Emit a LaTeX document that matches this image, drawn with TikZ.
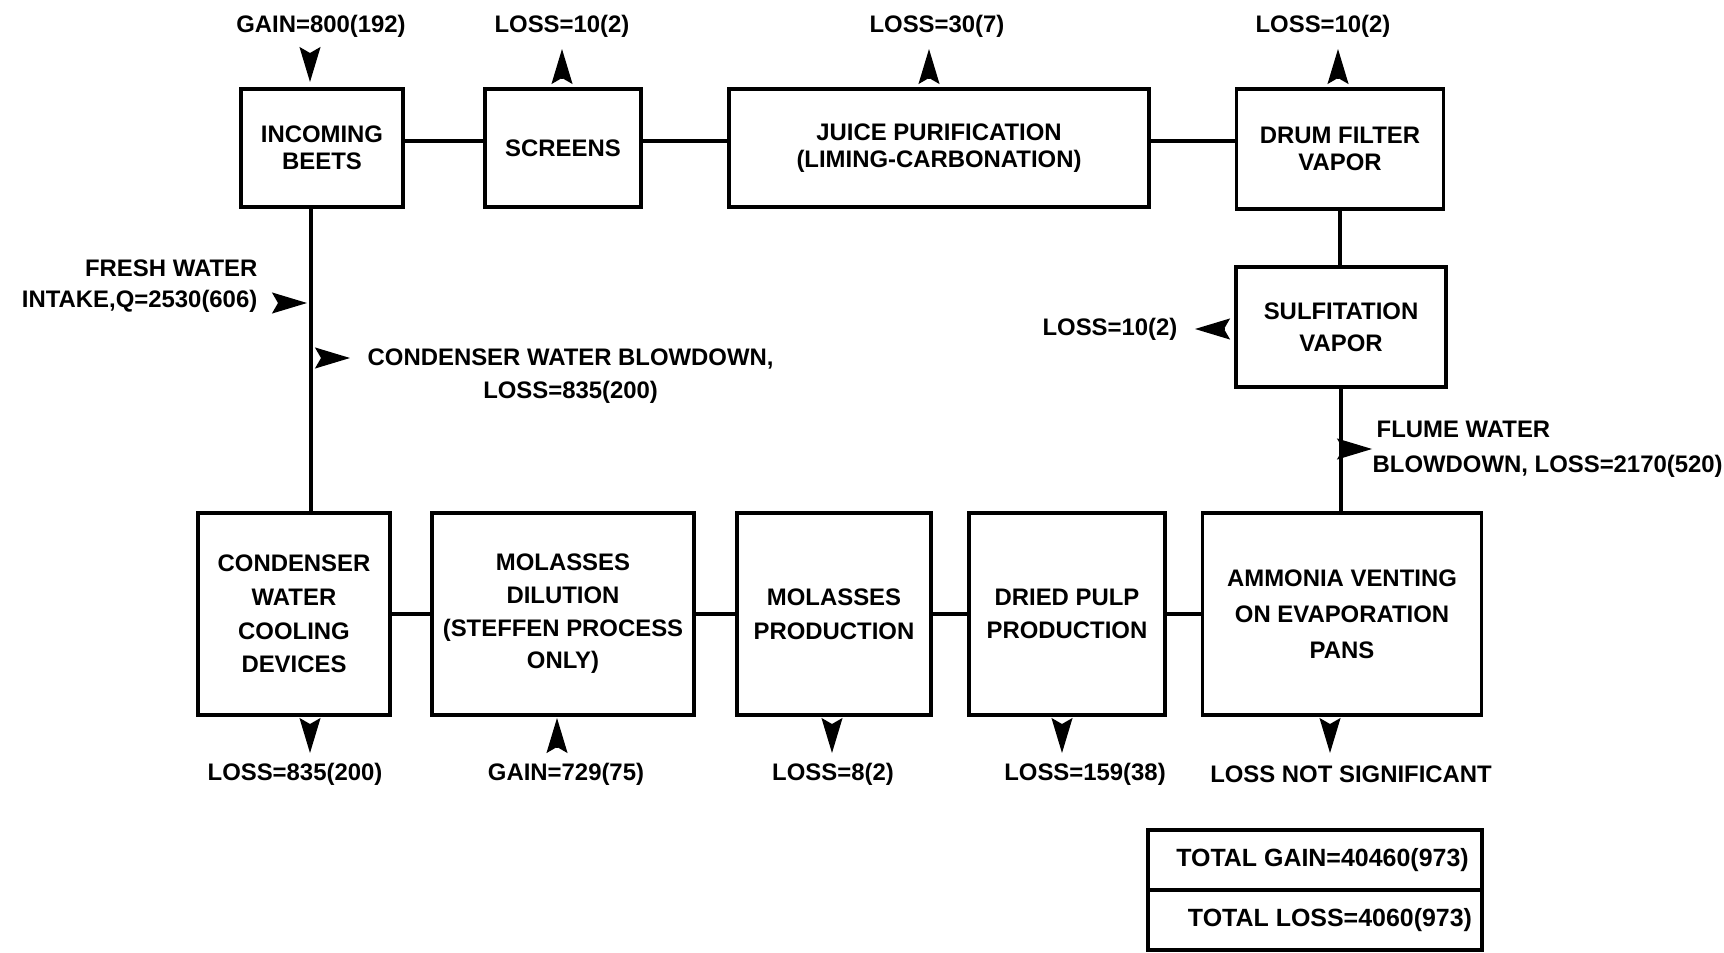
\documentclass[tikz,border=0pt]{standalone}
\usepackage{fontspec}
\setmainfont{Liberation Sans}
\usetikzlibrary{arrows.meta}

\tikzset{
  box/.style={draw,line width=0.9pt,align=center,inner sep=0pt,font=\fontsize{6.8}{7.7}\selectfont\bfseries},
  tallbox/.style={box,font=\fontsize{6.8}{9.6}\selectfont\bfseries},
  lbl/.style={inner sep=0pt,font=\fontsize{6.8}{9.4}\selectfont\bfseries},
  pipe/.style={line width=0.9pt},
  tip/.style={-{Stealth[length=3.5mm,width=2.1mm,inset=0.6mm]}}
}

\begin{document}
\begin{tikzpicture}
\useasboundingbox (0,0) rectangle (17.24,9.52);

% top row
\node[box,minimum width=1.62cm,minimum height=1.18cm] (beets) at (3.22,8.04) {INCOMING\\BEETS};
\node[box,minimum width=1.56cm,minimum height=1.18cm] (screens) at (5.63,8.04) {SCREENS};
\node[box,minimum width=4.20cm,minimum height=1.18cm] (juice) at (9.39,8.04) {JUICE PURIFICATION\\(LIMING-CARBONATION)};
\node[box,minimum width=2.07cm,minimum height=1.20cm] (drum) at (13.40,8.03) {DRUM FILTER\\VAPOR};
\node[tallbox,font=\fontsize{6.8}{9.1}\selectfont\bfseries,minimum width=2.10cm,minimum height=1.20cm] (sulf) at (13.41,6.25) {SULFITATION\\VAPOR};

% bottom row
\node[tallbox,minimum width=1.92cm,minimum height=2.02cm] (cond) at (2.94,3.38) {CONDENSER\\WATER\\COOLING\\DEVICES};
\node[tallbox,font=\fontsize{6.8}{9.3}\selectfont\bfseries,minimum width=2.62cm,minimum height=2.02cm] (dil) at (5.63,3.38) {MOLASSES\\DILUTION\\(STEFFEN PROCESS\\ONLY)};
\node[tallbox,minimum width=1.94cm,minimum height=2.02cm] (mprod) at (8.34,3.38) {MOLASSES\\PRODUCTION};
\node[tallbox,minimum width=1.96cm,minimum height=2.02cm] (pulp) at (10.67,3.38) {DRIED PULP\\PRODUCTION};
\node[tallbox,font=\fontsize{6.8}{10.2}\selectfont\bfseries,minimum width=2.79cm,minimum height=2.02cm] (ammo) at (13.42,3.38) {AMMONIA VENTING\\ON EVAPORATION\\PANS};

% totals
\node[box,font=\fontsize{7.1}{8}\selectfont\bfseries,minimum width=3.34cm,minimum height=0.60cm] (totgain) at (13.15,0.92) {\hspace{0.15cm}TOTAL GAIN=40460(973)};
\node[box,font=\fontsize{7.1}{8}\selectfont\bfseries,minimum width=3.34cm,minimum height=0.60cm] (totloss) at (13.15,0.32) {\hspace{0.3cm}TOTAL LOSS=4060(973)};

% labels
\node[lbl] (gainbeets) at (3.21,9.26) {GAIN=800(192)};
\node[lbl] (lossscreens) at (5.62,9.26) {LOSS=10(2)};
\node[lbl] (lossjuice) at (9.37,9.26) {LOSS=30(7)};
\node[lbl] (lossdrum) at (13.23,9.26) {LOSS=10(2)};
\node[lbl,align=right,font=\fontsize{6.8}{8.8}\selectfont\bfseries,anchor=east] (fresh) at (2.58,6.66) {FRESH WATER\hspace{0.08cm}\\INTAKE,Q=2530(606)};
\node[lbl,align=center,anchor=west] (cdblow) at (3.67,5.76) {CONDENSER WATER BLOWDOWN,\\LOSS=835(200)};
\node[lbl] (losssulf) at (11.10,6.23) {LOSS=10(2)};
\node[lbl,align=left,font=\fontsize{6.8}{9.9}\selectfont\bfseries,anchor=west] (flume) at (13.72,5.03) {\hspace{0.04cm}FLUME WATER\\BLOWDOWN, LOSS=2170(520)};
\node[lbl] (losscond) at (2.95,1.78) {LOSS=835(200)};
\node[lbl] (gaindil) at (5.66,1.78) {GAIN=729(75)};
\node[lbl] (lossmprod) at (8.33,1.78) {LOSS=8(2)};
\node[lbl] (losspulp) at (10.85,1.78) {LOSS=159(38)};
\node[lbl] (lossammo) at (13.51,1.78) {LOSS NOT SIGNIFICANT};

% connectors
\draw[pipe] ([yshift=0.07cm]beets.east) -- ([yshift=0.07cm]screens.west);
\draw[pipe] ([yshift=0.07cm]screens.east) -- ([yshift=0.07cm]juice.west);
\draw[pipe] ([yshift=0.07cm]juice.east) -- ([yshift=0.07cm]juice.east -| drum.west);
\draw[pipe] (drum.south) -- (drum.south |- sulf.north);
\draw[pipe] (sulf.south) -- (sulf.south |- ammo.north);
\draw[pipe] ([xshift=-0.11cm]beets.south) -- ([xshift=-0.11cm]beets.south |- cond.north);
\draw[pipe] (cond.east) -- (dil.west);
\draw[pipe] (dil.east) -- (mprod.west);
\draw[pipe] (mprod.east) -- (pulp.west);
\draw[pipe] (pulp.east) -- (ammo.west);

% flow arrows
\coordinate (inbeets) at (3.10,8.99);
\coordinate (outscreens) at (5.62,8.74);
\coordinate (outjuice) at (9.29,8.74);
\coordinate (outdrum) at (13.38,8.74);
\coordinate (infresh) at (2.78,6.49);
\coordinate (outcdblow) at (3.21,5.94);
\coordinate (outsulf) at (12.24,6.23);
\coordinate (outflume) at (13.43,5.03);
\coordinate (outcond) at (3.10,2.28);
\coordinate (indil) at (5.57,2.05);
\coordinate (outmprod) at (8.32,2.28);
\coordinate (outpulp) at (10.62,2.28);
\coordinate (outammo) at (13.30,2.28);

\draw[tip] (inbeets) -- ++(0,-0.29);
\draw[tip] (outscreens) -- ++(0,0.29);
\draw[tip] (outjuice) -- ++(0,0.29);
\draw[tip] (outdrum) -- ++(0,0.29);
\draw[tip] (infresh) -- ++(0.29,0);
\draw[tip] (outcdblow) -- ++(0.29,0);
\draw[tip] (outsulf) -- ++(-0.29,0);
\draw[tip] (outflume) -- ++(0.29,0);
\draw[tip] (outcond) -- ++(0,-0.29);
\draw[tip] (indil) -- ++(0,0.29);
\draw[tip] (outmprod) -- ++(0,-0.29);
\draw[tip] (outpulp) -- ++(0,-0.29);
\draw[tip] (outammo) -- ++(0,-0.29);
\end{tikzpicture}
\end{document}
